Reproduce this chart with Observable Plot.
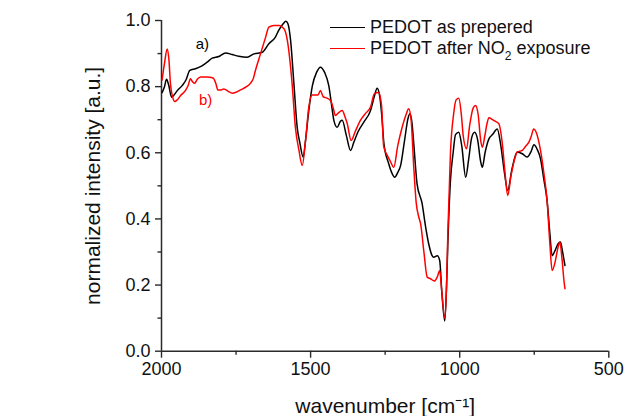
<!DOCTYPE html>
<html>
<head>
<meta charset="utf-8">
<script src="https://cdn.jsdelivr.net/npm/d3@7"></script>
<script src="https://cdn.jsdelivr.net/npm/@observablehq/plot@0.6"></script>
<style>
  html, body { margin: 0; padding: 0; background: #fff; }
  #wrap { position: relative; width: 626px; height: 416px; font-family: "Liberation Sans", Arial, sans-serif; }
  .lrow { position: absolute; left: 330px; height: 22px; font-size: 18px; color: #111; display: flex; align-items: center; white-space: nowrap; }
  .lrow .sw { display: inline-block; width: 35px; height: 0; border-top: 1.6px solid; margin-right: 5px; }
  .lrow sub { font-size: 12px; vertical-align: -6px; line-height: 0; }
</style>
</head>
<body>
<div id="wrap"></div>
<script>
// ---- data ----
const seriesNames = ["PEDOT as prepered", "PEDOT after NO2 exposure"];
const xTicks = [2000, 1500, 1000, 500];
const xMinorTicks = [1750, 1250, 750];
const yTicks = [0, 0.2, 0.4, 0.6, 0.8, 1.0];
const yMinorTicks = [0.1, 0.3, 0.5, 0.7, 0.9];

const blackWave = [1998,1990,1983,1976,1966,1958,1947,1931,1918,1905,1886,1866,1847,1830,1808,1785,1763,1741,1713,1690,1662,1640,1618,1607,1592,1583,1576,1567,1556,1545,1536,1525,1517,1506,1494,1480,1467,1453,1439,1429,1422,1411,1400,1394,1380,1366,1355,1340,1322,1299,1285,1277,1268,1262,1254,1238,1228,1218,1208,1198,1185,1173,1167,1160,1154,1143,1126,1115,1104,1093,1087,1075,1067,1060,1050,1044,1040,1031,1022,1014,1003,993,980,970,960,950,940,930,924,915,902,890,874,863,850,839,825,807,790,774,760,751,740,729,718,707,698,690,680,670,662,655,647];
const blackVal = [0.782,0.800,0.822,0.805,0.768,0.775,0.788,0.803,0.820,0.849,0.854,0.862,0.874,0.886,0.891,0.902,0.897,0.892,0.889,0.899,0.904,0.930,0.950,0.970,0.990,0.998,0.990,0.939,0.809,0.677,0.630,0.587,0.637,0.728,0.803,0.843,0.859,0.843,0.803,0.740,0.698,0.677,0.695,0.698,0.652,0.607,0.632,0.665,0.692,0.728,0.775,0.795,0.770,0.720,0.627,0.567,0.540,0.526,0.540,0.562,0.637,0.705,0.718,0.690,0.627,0.506,0.446,0.380,0.325,0.290,0.284,0.289,0.274,0.180,0.091,0.200,0.320,0.516,0.600,0.655,0.662,0.620,0.526,0.580,0.645,0.662,0.640,0.575,0.556,0.600,0.642,0.655,0.672,0.627,0.540,0.486,0.550,0.602,0.597,0.587,0.605,0.624,0.610,0.582,0.520,0.456,0.360,0.289,0.305,0.325,0.330,0.300,0.259];

const redWave = [1998,1990,1981,1975,1970,1963,1955,1945,1936,1920,1910,1903,1896,1889,1880,1869,1847,1827,1818,1811,1800,1791,1775,1763,1750,1735,1715,1702,1692,1685,1668,1651,1640,1623,1605,1595,1586,1578,1562,1551,1539,1528,1517,1506,1495,1485,1475,1467,1458,1445,1433,1424,1417,1405,1394,1385,1377,1364,1350,1333,1315,1299,1286,1272,1262,1255,1243,1233,1221,1208,1193,1180,1171,1163,1154,1146,1137,1131,1120,1109,1098,1085,1075,1067,1060,1050,1044,1040,1031,1020,1012,1003,995,988,977,967,955,947,938,930,924,916,908,902,890,880,869,857,848,839,828,816,807,790,779,768,760,752,745,729,718,707,698,690,680,670,664,657,650,647];
const redVal = [0.820,0.870,0.914,0.880,0.809,0.770,0.755,0.762,0.773,0.788,0.805,0.824,0.815,0.810,0.822,0.829,0.829,0.826,0.810,0.790,0.790,0.793,0.785,0.780,0.783,0.790,0.800,0.810,0.825,0.849,0.899,0.949,0.980,0.985,0.985,0.980,0.970,0.940,0.809,0.677,0.607,0.562,0.637,0.738,0.775,0.775,0.775,0.788,0.770,0.765,0.758,0.735,0.713,0.722,0.728,0.710,0.688,0.637,0.665,0.698,0.720,0.738,0.779,0.782,0.743,0.620,0.592,0.575,0.556,0.620,0.677,0.715,0.733,0.700,0.556,0.450,0.405,0.385,0.300,0.224,0.219,0.212,0.225,0.244,0.180,0.100,0.200,0.350,0.600,0.720,0.760,0.765,0.720,0.650,0.612,0.680,0.735,0.743,0.715,0.640,0.617,0.650,0.690,0.706,0.700,0.695,0.688,0.627,0.540,0.471,0.530,0.580,0.602,0.607,0.620,0.632,0.650,0.672,0.665,0.607,0.540,0.456,0.330,0.244,0.270,0.315,0.330,0.280,0.210,0.189];

const annoText = ["a)", "b)"];
const annoX = [1863, 1852];
const annoY = [0.927, 0.758];
const annoColor = ["#000000", "#ff0000"];

const axisColor = "#2a2a2a";

const chart = Plot.plot({
  width: 626,
  height: 416,
  marginLeft: 161,
  marginRight: 17.7,
  marginTop: 20,
  marginBottom: 65.3,
  style: { fontFamily: "'Liberation Sans', Arial, sans-serif", fontSize: "18px", color: "#111", background: "#fff", overflow: "visible" },
  x: { domain: [2000, 500] },
  y: { domain: [0, 1] },
  marks: [
    Plot.axisX(xTicks, { tickSize: 7, tickPadding: 4, stroke: axisColor, strokeWidth: 1.4, fill: "#111", tickFormat: d => String(d), label: null }),
    Plot.axisX(xMinorTicks, { tickSize: 4, stroke: axisColor, strokeWidth: 1.4, tickFormat: () => "", label: null }),
    Plot.axisY(yTicks, { tickSize: 6, tickPadding: 5, stroke: axisColor, strokeWidth: 1.4, fill: "#111", tickFormat: d3.format(".1f"), label: null }),
    Plot.axisY(yMinorTicks, { tickSize: 3.5, stroke: axisColor, strokeWidth: 1.4, tickFormat: () => "", label: null }),
    Plot.ruleY([0], { stroke: axisColor, strokeWidth: 1.5 }),
    Plot.ruleX([2000], { stroke: axisColor, strokeWidth: 1.5 }),
    Plot.line(blackWave, { x: blackWave, y: blackVal, stroke: "#000", strokeWidth: 1.5, curve: "monotone-x" }),
    Plot.line(redWave, { x: redWave, y: redVal, stroke: "#ff0000", strokeWidth: 1.5, curve: "monotone-x" }),
    Plot.text(annoText, { x: annoX, y: annoY, text: annoText, fill: annoColor, fontSize: 15, textAnchor: "middle", lineAnchor: "middle" }),
    Plot.text(["wavenumber [cm\u207B\u00B9]"], { frameAnchor: "bottom", dy: 55, fontSize: 21, textAnchor: "middle", lineAnchor: "middle", fill: "#111" }),
    Plot.text(["normalized intensity [a.u.]"], { frameAnchor: "left", dx: -68, rotate: -90, fontSize: 21, textAnchor: "middle", lineAnchor: "middle", fill: "#111" })
  ]
});

const wrap = document.getElementById("wrap");
wrap.appendChild(chart);

const row1 = document.createElement("div");
row1.className = "lrow";
row1.style.top = "16px";
row1.innerHTML = '<span class="sw" style="border-color:#000"></span><span>' + seriesNames[0] + '</span>';
wrap.appendChild(row1);

const row2 = document.createElement("div");
row2.className = "lrow";
row2.style.top = "37px";
row2.innerHTML = '<span class="sw" style="border-color:#ff0000"></span><span>PEDOT after NO<sub>2</sub> exposure</span>';
wrap.appendChild(row2);
</script>
</body>
</html>
